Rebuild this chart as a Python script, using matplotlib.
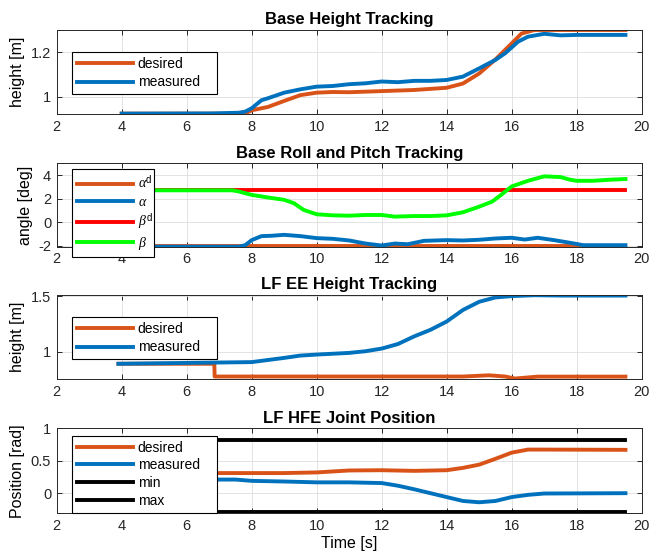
import matplotlib
matplotlib.use("Agg")
import matplotlib.pyplot as plt
import numpy as np

plt.rcParams['font.family'] = ['Liberation Sans', 'DejaVu Sans']
plt.rcParams['mathtext.fontset'] = 'custom'
plt.rcParams['mathtext.rm'] = 'Liberation Sans'
plt.rcParams['mathtext.it'] = 'Liberation Serif:italic'

# colores tipo MATLAB
c_des = '#D95319'
c_mea = '#0072BD'
c_red = '#FF0000'
c_grn = '#00FF00'

# --- Base height ---
t_bh_des = [4, 7.8, 8.0, 8.5, 9.0, 9.5, 10.0, 10.5, 11.0, 12.0, 13.0, 14.0, 14.5, 15.0, 15.5, 16.0, 16.3, 16.7, 19.5]
bh_des = [0.925, 0.925, 0.94, 0.955, 0.982, 1.008, 1.019, 1.022, 1.021, 1.026, 1.031, 1.041, 1.06, 1.105, 1.168, 1.24, 1.284, 1.30, 1.30]
t_bh_mea = [4, 6.8, 7.6, 7.8, 8.0, 8.3, 8.5, 9.0, 9.5, 10.0, 10.5, 11.0, 11.5, 12.0, 12.5, 13.0, 13.5, 14.0, 14.5, 15.0, 15.5, 15.8, 16.2, 16.5, 17.0, 17.5, 18.0, 19.5]
bh_mea = [0.925, 0.926, 0.929, 0.934, 0.949, 0.985, 0.994, 1.019, 1.034, 1.046, 1.049, 1.057, 1.061, 1.069, 1.066, 1.072, 1.072, 1.076, 1.091, 1.128, 1.166, 1.196, 1.248, 1.27, 1.283, 1.276, 1.278, 1.278]

# --- Base roll / pitch ---
t_rp = [4, 19.5]
alpha_des = [-2.0, -2.0]
beta_des = [2.7, 2.7]
t_alpha = [4, 7.6, 7.8, 8.0, 8.3, 8.6, 9.0, 9.5, 10.0, 10.5, 11.0, 11.5, 12.0, 12.4, 12.8, 13.3, 14.0, 14.5, 15.0, 15.5, 16.0, 16.4, 16.8, 17.3, 17.8, 18.2, 19.5]
alpha_mea = [-2.1, -2.1, -1.97, -1.54, -1.2, -1.17, -1.09, -1.2, -1.37, -1.43, -1.57, -1.83, -2.0, -1.83, -1.89, -1.6, -1.54, -1.57, -1.51, -1.4, -1.34, -1.49, -1.34, -1.54, -1.77, -1.97, -1.97]
t_beta = [4, 7.4, 7.6, 8.0, 8.5, 9.0, 9.3, 9.6, 10.0, 10.5, 11.0, 11.5, 12.0, 12.4, 13.0, 13.5, 14.0, 14.5, 15.0, 15.4, 15.7, 16.0, 16.5, 17.0, 17.5, 17.8, 18.0, 18.5, 19.0, 19.5]
beta_mea = [2.7, 2.7, 2.6, 2.31, 2.09, 1.89, 1.6, 1.03, 0.66, 0.57, 0.54, 0.6, 0.6, 0.46, 0.51, 0.51, 0.57, 0.83, 1.31, 1.74, 2.37, 3.03, 3.51, 3.89, 3.83, 3.6, 3.51, 3.51, 3.6, 3.66]

# --- LF EE height ---
t_ee_des = [3.9, 6.85, 6.86, 14.5, 15.3, 15.8, 16.1, 16.8, 19.5]
ee_des = [0.89, 0.89, 0.775, 0.775, 0.786, 0.775, 0.757, 0.774, 0.774]
t_ee_mea = [3.9, 8.0, 9.0, 9.5, 10.0, 11.0, 11.5, 12.0, 12.5, 13.0, 13.5, 14.0, 14.5, 15.0, 15.5, 16.0, 16.7, 17.5, 19.5]
ee_mea = [0.89, 0.905, 0.943, 0.964, 0.973, 0.988, 1.003, 1.027, 1.068, 1.137, 1.196, 1.271, 1.375, 1.449, 1.488, 1.5, 1.508, 1.505, 1.505]

# --- LF HFE joint ---
t_j_des = [4, 8.0, 9.0, 10.0, 11.0, 12.0, 13.0, 14.0, 14.5, 15.0, 15.5, 16.0, 16.5, 17.0, 19.5]
j_des = [0.31, 0.31, 0.31, 0.32, 0.35, 0.354, 0.344, 0.354, 0.39, 0.44, 0.53, 0.625, 0.672, 0.672, 0.668]
t_j_mea = [4, 7.5, 8.0, 9.0, 10.0, 11.0, 12.0, 12.5, 13.0, 13.5, 14.0, 14.5, 15.0, 15.5, 16.0, 16.5, 17.0, 19.5]
j_mea = [0.21, 0.21, 0.19, 0.18, 0.167, 0.167, 0.156, 0.115, 0.06, 0.0, -0.06, -0.12, -0.14, -0.12, -0.06, -0.026, -0.005, 0.0]
t_lim = [4, 19.5]
j_min = [-0.29, -0.29]
j_max = [0.82, 0.82]

W, H = 650, 552
fig = plt.figure(figsize=(W / 100, H / 100), dpi=100)

def make_ax(top, bottom):
    ax = fig.add_axes([56.7 / W, 1 - bottom / H, 585 / W, (bottom - top) / H])
    ax.set_xlim(2, 20)
    ax.set_xticks(np.arange(2, 21, 2))
    ax.grid(True, color='#dedede', linewidth=0.6)
    ax.set_axisbelow(True)
    ax.tick_params(direction='in', length=3.5, width=0.7, top=True, right=True,
                   labelsize=10.5, colors='#262626', pad=4)
    for s in ax.spines.values():
        s.set_color('#262626')
        s.set_linewidth(0.7)
    return ax

def leg(ax, top_frac, height_frac, width_frac, spacing):
    lg = ax.legend(loc='upper left', bbox_to_anchor=(0.0267, top_frac - height_frac, width_frac, height_frac),
                   mode='expand', fontsize=10, handlelength=4.0, handletextpad=0.35,
                   labelspacing=spacing, borderpad=0.35, borderaxespad=0, fancybox=False,
                   framealpha=1, edgecolor='black')
    lg.get_frame().set_linewidth(0.8)
    return lg

lw = 2.8

# Panel 1
ax1 = make_ax(30, 114.3)
ax1.plot(t_bh_des, bh_des, color=c_des, lw=lw, label='desired')
ax1.plot(t_bh_mea, bh_mea, color=c_mea, lw=lw, label='measured')
ax1.set_ylim(0.922, 1.30)
ax1.set_yticks([1, 1.2], ['1', '1.2'])
ax1.set_ylabel('height [m]', fontsize=11.5)
ax1.set_title('Base Height Tracking', fontsize=12, fontweight='bold', pad=4)
leg(ax1, 0.743, 0.49, 0.2468, 0.35)

# Panel 2
ax2 = make_ax(163.3, 246.7)
ax2.plot(t_rp, alpha_des, color=c_des, lw=lw, label=r'$\alpha^{\mathrm{d}}$')
ax2.plot(t_alpha, alpha_mea, color=c_mea, lw=lw, label=r'$\alpha$')
ax2.plot(t_rp, beta_des, color=c_red, lw=lw, label=r'$\beta^{\mathrm{d}}$')
ax2.plot(t_beta, beta_mea, color=c_grn, lw=lw, label=r'$\beta$')
ax2.set_ylim(-2.1, 5.0)
ax2.set_yticks([-2, 0, 2, 4], ['-2', '0', '2', '4'])
ax2.set_ylabel('angle [deg]', fontsize=11.5)
ax2.set_title('Base Roll and Pitch Tracking', fontsize=12, fontweight='bold', pad=4)
leg(ax2, 0.926, 1.03, 0.14, 0.22)

# Panel 3
ax3 = make_ax(295, 379.3)
ax3.plot(t_ee_des, ee_des, color=c_des, lw=lw, label='desired')
ax3.plot(t_ee_mea, ee_mea, color=c_mea, lw=lw, label='measured')
ax3.set_ylim(0.75, 1.51)
ax3.set_yticks([1, 1.5], ['1', '1.5'])
ax3.set_ylabel('height [m]', fontsize=11.5)
ax3.set_title('LF EE Height Tracking', fontsize=12, fontweight='bold', pad=4)
leg(ax3, 0.743, 0.49, 0.2468, 0.35)

# Panel 4
ax4 = make_ax(428.3, 513.3)
ax4.plot(t_j_des, j_des, color=c_des, lw=lw, label='desired')
ax4.plot(t_j_mea, j_mea, color=c_mea, lw=lw, label='measured')
ax4.plot(t_lim, j_max, color='black', lw=lw, label='min')
ax4.plot(t_lim, j_min, color='black', lw=lw, label='max')
ax4.set_ylim(-0.31, 1.0)
ax4.set_yticks([0, 0.5, 1], ['0', '0.5', '1'])
ax4.set_ylabel('Position [rad]', fontsize=11.5)
ax4.set_xlabel('Time [s]', fontsize=11.5, labelpad=2)
ax4.set_title('LF HFE Joint Position', fontsize=12, fontweight='bold', pad=4)
leg(ax4, 0.913, 0.91, 0.2468, 0.27)

fig.savefig('out.png', dpi=100)
